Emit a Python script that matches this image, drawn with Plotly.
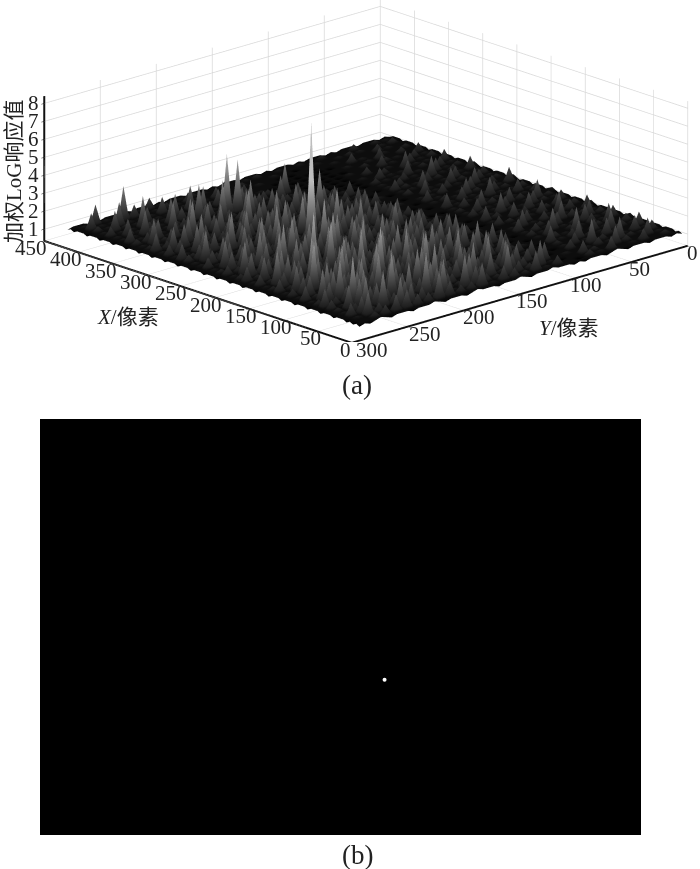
import plotly.graph_objects as go

# Peak samples in tenths, read by eye. Rows run along X, columns along Y.
# Between two samples the surface drops to the dark floor of the picture.
x_samples = [5 + 9.5 * i for i in range(46)]
y_samples = [2 + 9.6 * j for j in range(31)]
floor_tenths = 11
response_tenths = [
[10,10,11,10,11,10,12,10,11,10,10,11,12,11,10,12,11,10,11,12,10,11,10,12,11,10,11,10,12,10,10],
[10,13,11,17,12,11,18,12,14,10,11,16,12,22,13,16,19,12,24,15,15,19,26,16,17,21,20,16,14,11,10],
[11,12,20,11,14,21,11,13,18,11,10,12,25,14,17,28,13,15,21,29,12,30,13,18,22,27,11,16,24,12,10],
[10,16,12,13,23,12,15,12,11,12,11,21,12,16,20,13,24,18,27,13,19,24,34,13,22,17,31,13,20,18,11],
[11,12,19,12,11,14,24,11,16,11,10,13,18,22,26,15,14,30,12,16,25,26,19,29,13,18,23,28,15,12,10],
[10,18,11,15,20,11,12,17,12,10,12,20,12,14,18,29,19,13,21,18,33,12,15,22,35,16,20,26,24,13,11],
[11,12,14,22,12,13,21,11,13,11,11,12,15,23,13,20,18,27,16,14,23,31,13,24,13,17,28,37,12,16,10],
[10,15,11,12,17,11,15,12,20,10,10,17,20,12,28,13,22,14,25,19,29,13,18,25,32,13,26,19,15,21,11],
[12,11,21,13,11,24,12,14,11,11,12,13,24,17,12,19,31,15,20,35,18,14,27,13,21,30,16,33,22,14,10],
[10,17,12,16,12,13,11,19,12,10,11,19,12,16,25,18,14,26,12,14,24,22,13,34,18,15,22,25,28,12,11],
[11,13,12,20,14,12,23,12,14,11,10,12,20,28,12,21,20,16,30,21,17,26,40,15,26,20,13,29,13,19,10],
[10,14,19,12,11,18,12,15,12,10,11,22,12,13,17,27,14,23,16,33,15,15,25,28,17,34,23,12,22,12,11],
[11,12,13,15,21,12,13,11,18,11,12,13,17,24,12,14,29,12,24,17,24,30,12,16,27,24,12,38,20,15,10],
[10,18,12,12,13,16,12,20,12,12,10,15,12,23,19,22,13,22,15,25,31,15,35,20,29,16,26,19,25,12,11],
[12,11,16,22,12,11,17,12,11,10,11,12,20,12,26,15,14,23,30,13,21,17,24,32,13,16,36,22,13,18,10],
[10,14,12,11,18,12,12,13,16,11,12,16,24,14,17,21,20,17,13,28,18,14,26,19,21,33,12,24,19,13,11],
[11,12,17,13,12,15,19,11,12,10,10,13,23,18,13,22,27,14,21,16,34,23,12,38,17,14,21,26,30,12,10],
[10,16,11,12,20,12,11,14,19,11,11,12,14,18,23,25,13,19,22,13,16,25,20,14,43,23,12,27,13,17,11],
[11,12,13,18,12,13,22,12,11,10,12,19,21,13,20,15,24,29,16,25,12,18,31,22,13,29,17,14,24,12,10],
[10,13,21,12,11,17,12,13,15,11,10,12,15,24,12,14,24,13,16,28,19,36,12,15,24,13,33,20,13,19,11],
[12,11,12,14,19,12,12,18,12,10,11,14,19,22,13,20,15,19,23,13,32,18,14,26,19,35,12,21,24,14,10],
[10,15,12,12,11,14,20,11,13,11,12,12,18,12,27,12,16,25,26,17,14,22,29,12,16,21,25,12,29,12,11],
[11,12,18,13,12,12,11,16,12,10,10,17,12,21,15,20,17,24,14,23,38,13,18,33,22,14,30,18,14,16,10],
[10,14,12,12,21,13,12,12,19,11,11,12,14,21,18,13,30,15,21,25,14,20,25,12,13,28,17,22,21,13,11],
[11,11,13,16,12,12,18,12,11,10,12,16,22,12,24,19,14,22,21,13,78,14,23,29,18,14,24,13,26,12,10],
[10,19,12,11,13,20,12,14,12,11,10,12,19,13,20,18,24,35,15,14,16,28,12,14,31,21,19,22,12,17,11],
[12,11,15,12,18,12,11,12,17,10,11,13,18,15,12,22,26,12,17,23,13,19,33,17,13,26,12,24,18,12,10],
[10,13,12,20,12,11,16,12,12,11,12,14,17,22,22,12,13,19,13,32,15,14,21,26,19,12,24,14,28,12,11],
[11,12,16,11,12,15,12,19,11,10,10,12,12,20,15,14,21,25,16,13,30,18,20,12,23,32,12,15,19,15,10],
[10,15,11,13,19,12,12,11,14,11,11,18,21,12,13,24,12,15,19,22,14,25,13,28,12,17,21,23,13,20,11],
[11,12,12,17,12,11,20,12,12,10,12,12,21,17,12,19,14,27,12,18,23,13,18,21,27,12,15,26,12,12,10],
[10,18,12,11,13,16,12,13,17,11,10,14,12,15,20,35,16,13,22,30,12,21,24,13,16,14,29,12,18,17,11],
[12,11,14,12,22,12,11,15,12,10,11,12,16,21,23,12,18,19,12,17,24,33,12,18,22,20,13,24,24,12,10],
[10,13,12,18,12,12,15,11,12,11,12,19,12,13,18,12,26,12,14,24,12,20,16,27,12,14,25,12,15,21,11],
[11,12,16,11,12,19,12,12,14,10,10,12,15,17,12,21,12,19,12,13,28,12,14,20,12,31,12,19,12,13,10],
[10,17,11,13,11,12,12,17,11,10,10,10,14,12,16,12,18,23,12,31,15,18,12,25,12,16,20,13,25,12,11],
[11,11,12,12,20,11,14,11,12,10,10,10,10,12,20,15,14,12,20,12,13,33,12,17,28,13,12,22,16,14,10],
[10,14,12,16,11,12,11,15,11,10,10,10,11,12,12,24,12,18,12,40,45,12,20,12,16,27,12,17,12,19,11],
[11,12,15,11,12,17,11,11,12,10,10,10,10,11,28,12,16,12,22,12,13,19,30,12,13,12,16,24,12,12,10],
[10,16,11,12,13,11,13,11,10,10,10,10,10,10,11,14,12,18,12,15,12,26,12,18,25,12,15,12,20,12,11],
[11,11,14,11,17,12,11,12,11,10,10,10,10,10,10,12,12,12,16,20,12,12,12,24,12,14,28,12,12,16,10],
[10,13,11,12,11,12,16,11,10,10,10,10,10,10,11,11,16,12,13,12,12,24,12,12,12,19,12,13,22,12,11],
[11,11,12,15,11,11,11,12,11,10,11,10,10,11,12,11,11,12,17,12,13,12,12,20,12,12,12,24,12,14,10],
[10,14,12,11,12,13,12,11,12,11,10,11,12,11,11,13,11,12,11,12,16,12,14,12,12,18,30,12,12,20,11],
[11,12,13,11,14,11,11,13,11,12,11,12,11,13,12,11,14,11,12,13,12,12,12,17,12,12,12,12,22,12,10],
[10,10,11,10,11,10,10,11,10,10,11,10,10,11,10,11,10,10,11,10,11,10,10,11,10,10,11,10,10,11,10],
]

x_ticks = [0, 50, 100, 150, 200, 250, 300, 350, 400, 450]
y_ticks = [0, 50, 100, 150, 200, 250, 300]
z_ticks = [1, 2, 3, 4, 5, 6, 7, 8]

panel_b_x = [258]
panel_b_y = [112]

X_MAX, Y_MAX, Z_MIN, Z_MAX = 450, 300, 0.35, 8.4
TICK = dict(family="Liberation Serif", size=21, color="#222")
CJK = "Liberation Serif, Noto Sans CJK SC"

# Samples on even grid lines, floor on the odd ones in between.
def with_floor(positions):
    out = []
    for a, b in zip(positions, positions[1:]):
        out += [a, (a + b) / 2]
    return out + [positions[-1]]

x_grid = with_floor(x_samples)
y_grid = with_floor(y_samples)
z_grid = [[floor_tenths / 10 for _ in x_grid] for _ in y_grid]
for i, row in enumerate(response_tenths):
    for j, v in enumerate(row):
        z_grid[2 * j][2 * i] = v / 10

def axis(ticks, rng):
    return dict(range=rng, tickvals=ticks, showticklabels=False, title=dict(text=""), showline=True,
                linecolor="#111", linewidth=4, gridcolor="#d8d8d8", gridwidth=1.5, showbackground=False,
                zeroline=False, showspikes=False, ticks="outside", ticklen=4, tickcolor="#111", autorange=False)

fig = go.Figure()
fig.add_trace(go.Surface(x=x_grid, y=y_grid, z=z_grid,
                         colorscale=[[0, "#000000"], [0.06, "#262626"], [0.4, "#787878"], [0.75, "#bcbcbc"], [1, "#eeeeee"]],
                         cmin=1, cmax=4.6, showscale=False, hoverinfo="skip",
                         lighting=dict(ambient=0.8, diffuse=0.4, specular=0.05, roughness=0.9, fresnel=0),
                         lightposition=dict(x=-1000, y=1000, z=3000)))
fig.add_trace(go.Scatter3d(x=[0, X_MAX], y=[Y_MAX, Y_MAX], z=[Z_MIN, Z_MIN], mode="lines", hoverinfo="skip",
                           line=dict(color="#111", width=4)))
fig.add_trace(go.Scatter(x=panel_b_x, y=panel_b_y, mode="markers", hoverinfo="skip",
                         marker=dict(color="white", size=4), xaxis="x", yaxis="y"))

W, H = 700, 869
def fx(px): return px / W
def fy(py): return 1 - py / H

scene_notes = []
for t in x_ticks:
    scene_notes.append(dict(x=t, y=Y_MAX, z=Z_MIN, text=str(t), showarrow=False, font=TICK,
                            xshift=-6 - t * 7 / 450, yshift=-7))
for t in y_ticks:
    scene_notes.append(dict(x=0, y=t, z=Z_MIN, text=str(t), showarrow=False, font=TICK,
                            xshift=5 + t * 0.05, yshift=-7))
for t in z_ticks:
    scene_notes.append(dict(x=X_MAX, y=Y_MAX, z=t, text=str(t), showarrow=False, font=TICK, xshift=-11, yshift=0))

fig.update_layout(
    width=W, height=H, autosize=False, showlegend=False,
    margin=dict(l=0, r=0, t=0, b=0), paper_bgcolor="white", plot_bgcolor="black",
    scene=dict(
        domain=dict(x=[fx(32), 1], y=[fy(342), 1]),
        xaxis=axis(x_ticks, [0, X_MAX]), yaxis=axis(y_ticks, [0, Y_MAX]), zaxis=axis(z_ticks, [Z_MIN, Z_MAX]),
        aspectmode="manual", aspectratio=dict(x=2.635, y=2.688, z=0.89),
        camera=dict(eye=dict(x=-7.53, y=7.03, z=3.35), center=dict(x=0, y=0, z=0), up=dict(x=0, y=0, z=1),
                    projection=dict(type="orthographic")),
        annotations=scene_notes,
    ),
    xaxis=dict(domain=[fx(40), fx(641)], range=[0, 450], visible=False),
    yaxis=dict(domain=[fy(835), fy(419)], range=[0, 300], visible=False),
)

def note(text, px, py, size=24, angle=0):
    fig.add_annotation(text=text, x=fx(px), y=fy(py), xref="paper", yref="paper", showarrow=False,
                       xanchor="center", yanchor="middle", textangle=angle,
                       font=dict(family=CJK, size=size, color="#222"))

note("<i>X</i>/像素", 128, 317, 21)
note("<i>Y</i>/像素", 569, 328, 21)
note("加权LoG响应值", 14, 171, 21, -90)
note("(a)", 357, 385, 27)
note("(b)", 357, 855, 27)

fig.write_html("out.html", config=dict(displayModeBar=False), post_script="document.body.style.margin='0';")
